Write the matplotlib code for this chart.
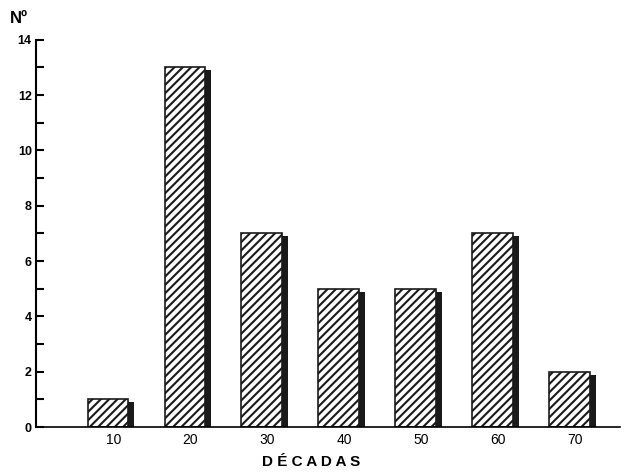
import matplotlib
matplotlib.use("Agg")
import matplotlib.pyplot as plt
import numpy as np

plt.rcParams['font.family'] = ['Liberation Sans', 'DejaVu Sans']
plt.rcParams['hatch.linewidth'] = 1.5

decades = ["10", "20", "30", "40", "50", "60", "70"]
counts = [1, 13, 7, 5, 5, 7, 2]

fig = plt.figure(figsize=(6.25, 4.74), dpi=100)
ax = fig.add_axes([0.0576, 0.099, 0.934, 0.817])

x = np.arange(1, len(decades) + 1)
w = 0.53
# shadows
ax.bar(x + 0.07, np.array(counts) - 0.1, width=w, color='#1a1a1a', zorder=1)
# hatched bars
ax.bar(x, counts, width=w, facecolor='white', edgecolor='#1a1a1a',
       hatch='////', linewidth=1.2, zorder=2)

ax.set_xlim(0.065, 7.65)
ax.set_ylim(0, 14)
ax.set_yticks(range(0, 15, 2))
ax.set_yticks(range(1, 14, 2), minor=True)
ax.tick_params(axis='y', which='both', direction='in', length=6, width=1.5,
               labelsize=9, pad=3)
ax.set_xticks(x + 0.07)
ax.set_xticklabels(decades)
ax.tick_params(axis='x', length=0, labelsize=10, pad=4)
for t in ax.get_yticklabels():
    t.set_fontweight('bold')
for s in ['top', 'right']:
    ax.spines[s].set_visible(False)
ax.spines['left'].set_linewidth(1.5)
ax.spines['bottom'].set_linewidth(1.2)

fig.text(0.497, 0.017, "D É C A D A S", fontsize=11, fontweight='bold', ha='center')
fig.text(0.016, 0.952, "Nº", fontsize=12, fontweight='bold', ha='left')

fig.savefig("out.png", dpi=100)
